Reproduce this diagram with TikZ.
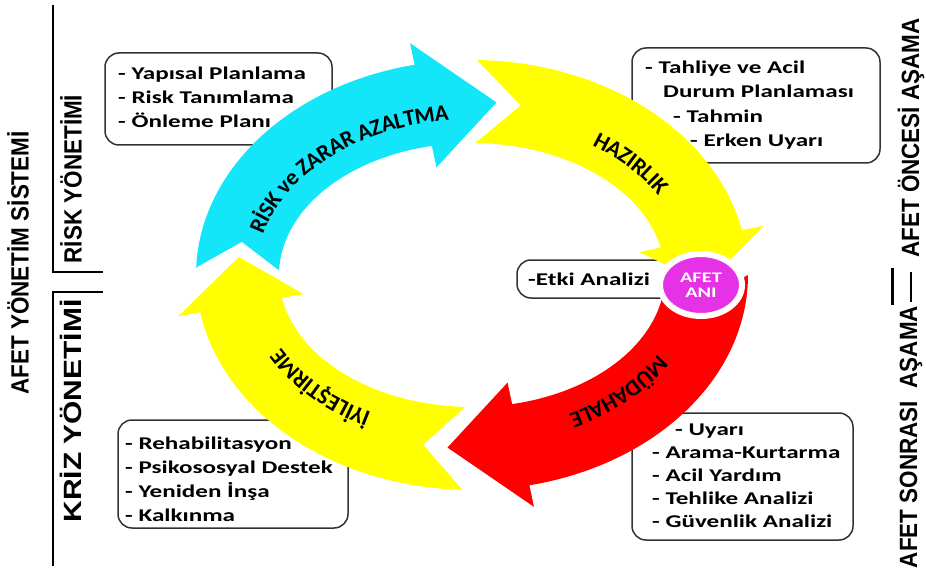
\documentclass[tikz,border=0pt]{standalone}
\usepackage{fontspec}
\usetikzlibrary{decorations.text,shapes.geometric}
\newfontfamily\boxfont[FakeStretch=1.4]{Carlito}
\newfontfamily\arrowfont{Carlito}
\newfontfamily\sidefont[FakeStretch=0.9]{Liberation Sans}
\newfontfamily\widesidefont[FakeStretch=1.2]{Liberation Sans}
\definecolor{ringcyan}{RGB}{20,230,250}
\definecolor{ringyellow}{RGB}{255,255,0}
\definecolor{ringred}{RGB}{255,0,0}
\definecolor{afetmagenta}{RGB}{230,50,230}
\definecolor{boxline}{RGB}{50,50,50}

% ring centre and radii (outer, inner, middle, wing out, wing in)
\def\rcx{472}\def\rcy{275}
\def\rao{276}\def\rbo{215}
\def\rai{193}\def\rbi{132}
\def\ram{234.5}\def\rbm{173.5}
\def\raw{298}\def\rbw{237}
\def\rav{171}\def\rbv{110}

% colour, tail angle, notch angle, head angle, tip angle
\newcommand{\cyclearrow}[5]{%
\fill[#1] plot[domain=#2:#4, samples=40] ({\rcx+\rao*cos(\x)},{\rcy+\rbo*sin(\x)})
 -- ({\rcx+\raw*cos(#4)},{\rcy+\rbw*sin(#4)})
 -- ({\rcx+\ram*cos(#5)},{\rcy+\rbm*sin(#5)})
 -- ({\rcx+\rav*cos(#4)},{\rcy+\rbv*sin(#4)})
 -- plot[domain=#4:#2, samples=40] ({\rcx+\rai*cos(\x)},{\rcy+\rbi*sin(\x)})
 -- ({\rcx+\ram*cos(#3)},{\rcy+\rbm*sin(#3)}) -- cycle;}

\newcommand{\ringlabel}[3]{%
\path[decorate, decoration={text along path, text align=center, raise=-0.22cm,
 text={|\arrowfont\bfseries\fontsize{19.5}{20}\selectfont|#3}}]
 plot[domain=#1:#2, samples=60] ({\rcx+224*cos(\x)},{\rcy+163*sin(\x)});}

\begin{document}
\begin{tikzpicture}[x=0.03cm, y=-0.03cm,
 infobox/.style={draw=boxline, line width=0.045cm, rounded corners=0.42cm},
 boxtext/.style={inner sep=0, align=left, font=\boxfont\bfseries\fontsize{15.3}{20.4}\selectfont},
 sidetext/.style={rotate=90, inner sep=0, font=\sidefont\bfseries\fontsize{21.3}{24}\selectfont},
 bracket/.style={line width=0.075cm},
 afetani/.style={ellipse, fill=afetmagenta, draw=white, line width=0.18cm, minimum width=2.46cm,
  minimum height=1.86cm, inner sep=0, text=white, align=center,
  font=\boxfont\bfseries\fontsize{12.5}{12.5}\selectfont}]
\useasboundingbox (0,0) rectangle (926,569);

\draw[infobox] (105,53) rectangle (332,145);
\node[boxtext, anchor=west] (riskbox) at (118,97) {- Yapısal Planlama\\- Risk Tanımlama\\- Önleme Planı};
\draw[infobox] (632,48) rectangle (880,163);
\node[boxtext, anchor=west, font=\boxfont\bfseries\fontsize{15.3}{20.9}\selectfont] (hazirbox) at (645,105)
 {- Tahliye ve Acil\\\hspace*{0.54cm}Durum Planlaması\\\hspace*{0.84cm}- Tahmin\\\hspace*{1.35cm}- Erken Uyarı};
\draw[infobox] (517,260) rectangle (690,298);
\node[boxtext, anchor=west] (etki) at (528,279) {-Etki Analizi};
\draw[infobox] (118,420) rectangle (348,528);
\node[boxtext, anchor=west] (iyibox) at (125,479) {- Rehabilitasyon\\- Psikososyal Destek\\- Yeniden İnşa\\- Kalkınma};
\draw[infobox] (632,413) rectangle (853,540);
\node[boxtext, anchor=west, font=\boxfont\bfseries\fontsize{15.3}{19.6}\selectfont] (mudabox) at (652,476)
 {\hspace*{0.69cm}- Uyarı\\- Arama-Kurtarma\\- Acil Yardım\\- Tehlike Analizi\\- Güvenlik Analizi};

\cyclearrow{ringred}{0}{8}{78}{96}
\cyclearrow{ringyellow}{92}{102}{170}{186}
\cyclearrow{ringcyan}{182}{191}{258}{276}
\cyclearrow{ringyellow}{271}{282}{348}{363}

\ringlabel{190}{268}{RİSK ve ZARAR AZALTMA}
\ringlabel{288}{348}{HAZIRLIK}
\ringlabel{16}{76}{MÜDAHALE}
\ringlabel{106}{166}{İYİLEŞTİRME}

\node[afetani] (ani) at (701,285) {AFET\\ANI};

\node[sidetext] (sistem) at (18,263) {AFET YÖNETİM SİSTEMİ};
\node[sidetext] (risk) at (71,179) {RİSK YÖNETİMİ};
\node[sidetext, font=\widesidefont\bfseries\fontsize{21.3}{24}\selectfont] (kriz) at (71,411) {KRİZ YÖNETİMİ};
\draw[bracket] (53,5) -- (53,272) -- (103,272);
\draw[bracket] (103,292) -- (53,292) -- (53,566);

\node[sidetext] (oncesi) at (911,138) {AFET ÖNCESİ AŞAMA};
\node[sidetext] (sonrasi) at (911,437) {AFET SONRASI\ \ AŞAMA};
\draw[line width=0.09cm] (892,268) -- (892,305);
\draw[line width=0.045cm] (911,272) -- (911,302);
\end{tikzpicture}
\end{document}
